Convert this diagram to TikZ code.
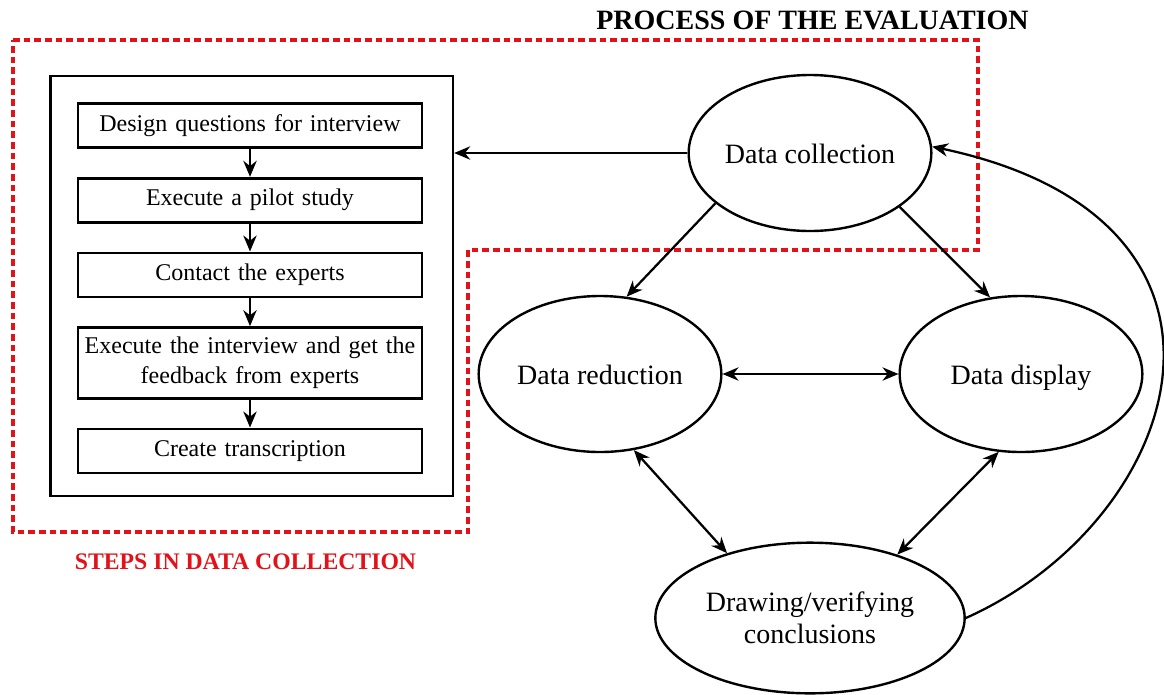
\documentclass[tikz,border=0pt]{standalone}
\usepackage{fontspec}
\setmainfont{Liberation Serif}
\usetikzlibrary{positioning,shapes.geometric,arrows.meta}
\definecolor{evalred}{RGB}{226,18,24}
\tikzset{
  stepbox/.style={draw,line width=2pt,minimum height=33pt,text width=254pt,
    inner xsep=2pt,align=center,font=\fontsize{18}{22.5}\selectfont},
  phase/.style={draw,ellipse,line width=1.8pt,inner sep=0pt,
    minimum width=182pt,minimum height=117pt,align=center,
    font=\fontsize{21}{24}\selectfont,text height=15pt,text depth=0pt},
  flow/.style={line width=1.7pt,-{Stealth[length=12pt,width=10pt]}},
  both/.style={line width=1.7pt,{Stealth[length=12pt,width=10pt]}-{Stealth[length=12pt,width=10pt]}}
}
\begin{document}
\begin{tikzpicture}[x=0.75pt,y=-0.75pt,node distance=21pt]
        \useasboundingbox (0,0) rectangle (1164,694);
        %% Steps in data collection
        \draw[evalred,line width=3pt,dash pattern=on 5pt off 3pt]
            (13,40) -- (978,40) -- (978,250) -- (468,250) -- (468,532) -- (13,532) -- cycle;
        \node[text=evalred,font=\fontsize{17.8}{20}\selectfont\bfseries] (stepstitle) at (245.5,562) {STEPS IN DATA COLLECTION};
        \node[draw,line width=2pt,minimum width=302pt,minimum height=315pt] (steps) at (251.5,286) {};
        \node[stepbox] (s1) at (250,125.5) {Design questions for interview};
        \node[stepbox,below=of s1] (s2) {Execute a pilot study};
        \node[stepbox,below=of s2] (s3) {Contact the experts};
        \node[stepbox,below=of s3,minimum height=53pt] (s4) {Execute the interview and get the\\feedback from experts};
        \node[stepbox,below=of s4] (s5) {Create transcription};
        \draw[flow] (s1) to (s2);
        \draw[flow] (s2) to (s3);
        \draw[flow] (s3) to (s4);
        \draw[flow] (s4) to (s5);
        %% Process of the evaluation
        \node[font=\fontsize{21}{24}\selectfont\bfseries] (evaltitle) at (812.5,20) {PROCESS OF THE EVALUATION};
        \node[phase] (coll) at (810,153) {Data collection};
        \node[phase] (red) at (600,374) {Data reduction};
        \node[phase] (disp) at (1021,374) {Data display};
        \node[phase,text height=,text depth=-4pt,minimum width=232pt,minimum height=113pt] (concl) at (810,618) {Drawing/verifying\\conclusions};
        \draw[flow] (coll.west) to (coll.west -| steps.east);
        \draw[flow] (coll.208) to (red.71);
        \draw[flow] (coll.-31) to (disp.112);
        \draw[both] (red.east) to (disp.west);
        \draw[both] (red.-66) to (concl.142);
        \draw[both] (disp.-106) to (concl.36);
        \draw[flow] (concl.east) .. controls (1185,520) and (1280,220) .. (coll.3);
\end{tikzpicture}
\end{document}
